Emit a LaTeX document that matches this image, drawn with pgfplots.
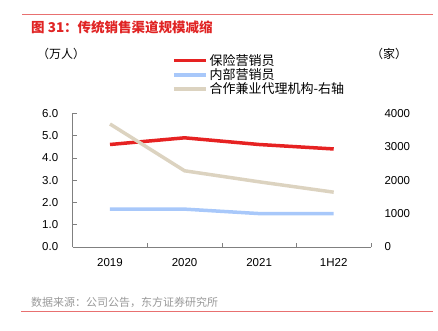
\documentclass[border=0pt]{standalone}
\usepackage{pgfplots}
\pgfplotsset{compat=1.18}
\usepackage{fontspec}
\setmainfont{Liberation Sans}
\newfontfamily\cjk{Noto Sans CJK SC}
\definecolor{cred}{HTML}{E62222}
\definecolor{cblue}{HTML}{A8C8FA}
\definecolor{cbeige}{HTML}{DCD3C0}
\definecolor{ttl}{HTML}{E02424}
\definecolor{rule}{HTML}{E87070}
\definecolor{axgrey}{HTML}{808080}
\definecolor{foot}{HTML}{999999}
\begin{document}
\begin{tikzpicture}[x=1pt,y=1pt]
\path[use as bounding box] (0,0) rectangle (438,330);
\draw[rule,line width=1pt] (22,315) -- (433,315);
\draw[rule,line width=1pt] (21,19) -- (433,19);
\node[anchor=west,inner sep=0,text=ttl,font=\cjk\fontsize{13.5}{15}\selectfont\bfseries] at (31,303) {图 31：传统销售渠道规模减缩};
\node[anchor=west,inner sep=0,font=\cjk\fontsize{12}{14}\selectfont] at (37,276) {（万人）};
\node[anchor=west,inner sep=0,font=\cjk\fontsize{12}{14}\selectfont] at (371,276) {（家）};
\node[anchor=west,inner sep=0,text=foot,font=\cjk\fontsize{11}{13}\selectfont] at (31,28) {数据来源：公司公告，东方证券研究所};
\begin{axis}[
  at={(72.7pt,83pt)}, anchor=south west,
  scale only axis, width=298.3pt, height=133.7pt,
  xmin=-0.5, xmax=3.5, ymin=0, ymax=6,
  axis x line*=bottom, axis y line*=left,
  axis line style={axgrey,-,line width=0.6pt},
  xtick={0,1,2,3}, xticklabels={2019,2020,2021,1H22},
  minor xtick={0.5,1.5,2.5,3.5},
  ytick={0,1,...,6},
  tick style={axgrey,line width=0.6pt},
  major tick length=4pt, minor tick length=4pt,
  tick align=inside,
  major x tick style={draw=none},
  yticklabel style={/pgf/number format/fixed,/pgf/number format/fixed zerofill,/pgf/number format/precision=1,xshift=-11pt},
  xticklabel style={yshift=-8pt},
  /pgf/number format/assume math mode=true,
  ticklabel style={font=\fontsize{11.5}{13}\selectfont},
  legend style={at={(0.333,1.46)},anchor=north west,draw=none,fill=none,
    font=\cjk\fontsize{13}{14}\selectfont,inner sep=0pt,row sep=-2pt,
    legend cell align=left},
  legend image code/.code={\draw[#1,line width=3.5pt] (0pt,0pt) -- (32pt,0pt);},
]
\addplot[cred,line width=3.5pt] coordinates {(0,4.6) (1,4.9) (2,4.6) (3,4.4)};
\addlegendentry{保险营销员}
\addplot[cblue,line width=3.5pt] coordinates {(0,1.7) (1,1.7) (2,1.5) (3,1.5)};
\addlegendentry{内部营销员}
\addlegendimage{cbeige,line width=3.5pt}
\addlegendentry{合作兼业代理机构-右轴}
\end{axis}
\begin{axis}[
  at={(72.7pt,83pt)}, anchor=south west,
  scale only axis, width=298.3pt, height=133.7pt,
  xmin=-0.5, xmax=3.5, ymin=0, ymax=4000,
  axis y line*=right, hide x axis,
  y axis line style={draw=none},
  ytick={0,1000,...,4000},
  major tick length=0pt,
  yticklabel style={/pgf/number format/1000 sep={},xshift=10pt},
  /pgf/number format/assume math mode=true,
  ticklabel style={font=\fontsize{11.5}{13}\selectfont},
]
\addplot[cbeige,line width=3.5pt] coordinates {(0,3680) (1,2280) (2,1950) (3,1640)};
\end{axis}
\end{tikzpicture}
\end{document}
